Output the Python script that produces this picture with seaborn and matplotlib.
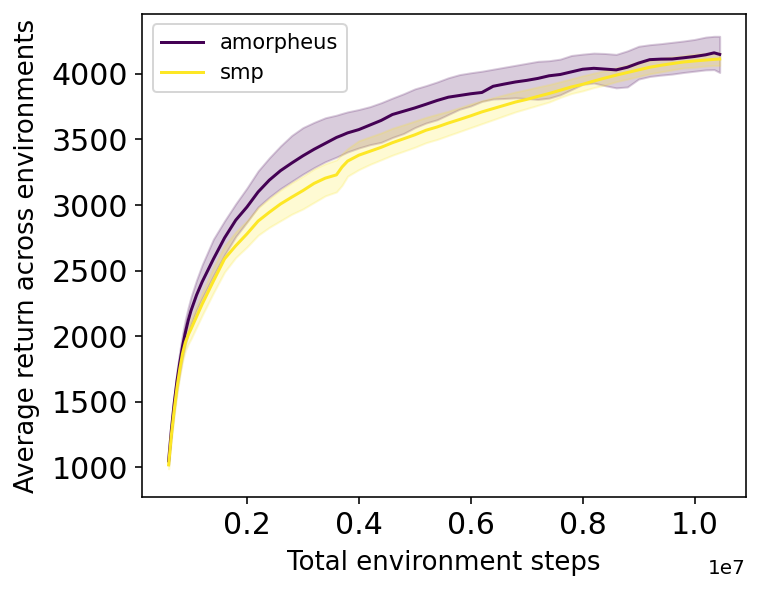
import numpy as np
import pandas as pd
import seaborn as sns
import matplotlib
matplotlib.use("Agg")
import matplotlib.pyplot as plt

# environment steps, in millions
steps_m = [0.6, 0.65, 0.7, 0.75, 0.8, 0.85, 0.9, 0.95, 1.0, 1.1, 1.2, 1.4, 1.6, 1.8, 2.0, 2.2,
           2.4, 2.6, 2.8, 3.0, 3.2, 3.4, 3.6, 3.7, 3.8, 4.0, 4.2, 4.4, 4.6, 4.8, 5.0, 5.2,
           5.4, 5.6, 5.8, 6.0, 6.2, 6.4, 6.6, 6.8, 7.0, 7.2, 7.4, 7.6, 7.8, 8.0, 8.2, 8.4,
           8.6, 8.8, 9.0, 9.2, 9.4, 9.6, 9.8, 10.0, 10.2, 10.35, 10.45]

amorpheus_mean = [1050, 1290, 1490, 1660, 1800, 1925, 2030, 2120, 2195, 2315, 2415, 2588, 2750,
                  2885, 2985, 3100, 3190, 3262, 3320, 3375, 3425, 3470, 3515, 3532, 3550, 3575,
                  3610, 3645, 3690, 3715, 3740, 3768, 3797, 3822, 3835, 3848, 3858, 3905, 3922,
                  3938, 3950, 3965, 3985, 3995, 4015, 4035, 4042, 4036, 4030, 4050, 4082, 4108,
                  4112, 4113, 4122, 4132, 4145, 4160, 4148]
amorpheus_upper = [1075, 1330, 1550, 1740, 1890, 2020, 2130, 2220, 2300, 2430, 2545, 2740, 2880,
                   3010, 3130, 3260, 3360, 3450, 3530, 3590, 3630, 3665, 3685, 3698, 3710, 3728,
                   3750, 3780, 3815, 3848, 3885, 3910, 3938, 3970, 3994, 4008, 4020, 4035, 4050,
                   4065, 4080, 4095, 4100, 4112, 4140, 4150, 4158, 4155, 4148, 4175, 4210, 4222,
                   4230, 4240, 4250, 4262, 4280, 4286, 4286]
amorpheus_lower = [1020, 1240, 1430, 1590, 1720, 1840, 1940, 2020, 2090, 2200, 2290, 2460, 2620,
                   2760, 2870, 2985, 3060, 3125, 3180, 3235, 3285, 3330, 3365, 3385, 3405, 3435,
                   3460, 3478, 3515, 3545, 3590, 3625, 3650, 3690, 3730, 3755, 3790, 3808, 3812,
                   3817, 3812, 3805, 3815, 3840, 3880, 3920, 3930, 3910, 3893, 3900, 3960, 3980,
                   3990, 3998, 4010, 4020, 4030, 4032, 4010]

smp_mean = [1020, 1250, 1440, 1610, 1750, 1870, 1955, 2010, 2055, 2150, 2245, 2420, 2590, 2690,
            2780, 2878, 2945, 3008, 3060, 3110, 3165, 3205, 3230, 3290, 3335, 3380, 3410, 3440,
            3475, 3505, 3535, 3570, 3595, 3625, 3652, 3680, 3710, 3735, 3760, 3785, 3805, 3828,
            3850, 3875, 3900, 3920, 3945, 3968, 3990, 4010, 4030, 4050, 4065, 4078, 4090, 4098,
            4105, 4110, 4113]
smp_upper = [1040, 1280, 1480, 1655, 1800, 1925, 2015, 2075, 2125, 2230, 2330, 2520, 2690, 2795,
             2880, 2980, 3050, 3115, 3170, 3220, 3275, 3315, 3345, 3390, 3430, 3490, 3520, 3550,
             3585, 3612, 3640, 3668, 3692, 3715, 3742, 3770, 3795, 3818, 3840, 3862, 3880, 3900,
             3918, 3940, 3962, 3985, 4005, 4025, 4045, 4065, 4090, 4105, 4118, 4128, 4138, 4150,
             4155, 4158, 4160]
smp_lower = [990, 1210, 1395, 1560, 1695, 1810, 1890, 1940, 1980, 2070, 2160, 2330, 2490, 2600,
             2680, 2770, 2830, 2880, 2930, 2970, 3020, 3070, 3100, 3150, 3220, 3270, 3310, 3345,
             3380, 3410, 3440, 3475, 3500, 3530, 3560, 3590, 3620, 3650, 3680, 3710, 3735, 3760,
             3785, 3820, 3850, 3870, 3895, 3915, 3940, 3960, 3980, 4000, 4015, 4030, 4045, 4050,
             4060, 4063, 4063]

methods = ["amorpheus", "smp"]
colors = {"amorpheus": "#440154", "smp": "#fde725"}

steps = np.array(steps_m) * 1e6
df = pd.DataFrame({
    "steps": np.concatenate([steps, steps]),
    "ret": amorpheus_mean + smp_mean,
    "method": ["amorpheus"] * len(steps) + ["smp"] * len(steps),
})

fig = plt.figure(figsize=(762 / 144, 590 / 144), dpi=144)
ax = fig.add_axes([0.1864, 0.1576, 0.7926, 0.8187])

sns.lineplot(data=df, x="steps", y="ret", hue="method", hue_order=methods,
             palette=colors, linewidth=1.5, ax=ax)

bands = {"amorpheus": (amorpheus_lower, amorpheus_upper), "smp": (smp_lower, smp_upper)}
for m in methods:
    lo, hi = bands[m]
    ax.fill_between(steps, lo, hi, color=colors[m], alpha=0.2, linewidth=1)

ax.set_xlim(1.25e5, 1.092e7)
ax.set_ylim(775, 4456)
ax.set_yticks([1000, 1500, 2000, 2500, 3000, 3500, 4000])
ax.set_xticks([2e6, 4e6, 6e6, 8e6, 1e7])
ax.tick_params(labelsize=15)
ax.set_xlabel("Total environment steps", fontsize=13, labelpad=5)
ax.set_ylabel("Average return across environments", fontsize=13, labelpad=6)

# scale factor shown under the right end of the x axis
ax.xaxis.get_offset_text().set_visible(False)
ax.text(1.0, -0.147, "1e7", transform=ax.transAxes, ha="right", va="center", fontsize=10)

leg = ax.legend(loc="upper left", fontsize=10.5, title=None)
for line in leg.get_lines():
    line.set_linewidth(1.5)

fig.savefig("out.png", dpi=144)
